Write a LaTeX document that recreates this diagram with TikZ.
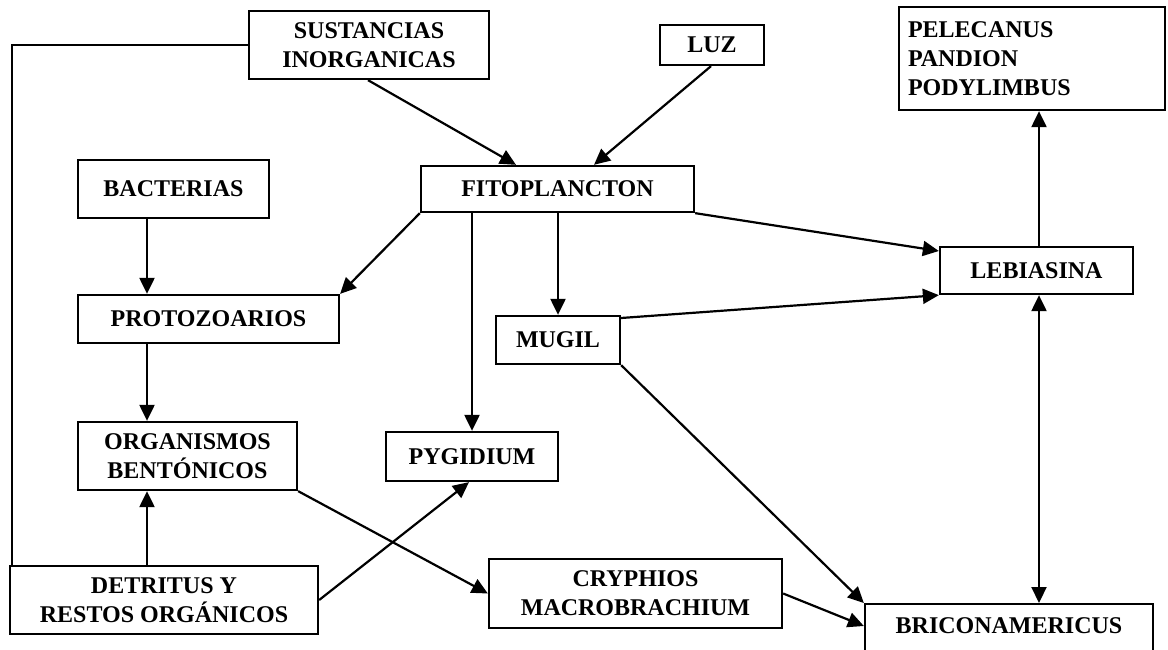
\documentclass[tikz,border=0pt]{standalone}
\usepackage{fontspec}
\setmainfont{Liberation Serif}
\usetikzlibrary{arrows.meta}
\begin{document}
\begin{tikzpicture}[x=1pt,y=-1pt,
  lbl/.style={font=\fontsize{24}{29}\selectfont\bfseries},
  box/.style={draw=black,line width=2.3pt,rectangle,inner sep=0pt,align=center,lbl},
  arr/.style={line width=2.2pt,-{Triangle[length=16pt,width=15pt]}},
  darr/.style={line width=2.2pt,{Triangle[length=16pt,width=15pt]}-{Triangle[length=16pt,width=15pt]}},
  ln/.style={line width=2.2pt}]
\useasboundingbox (0,0) rectangle (1168,650);
\fill[white] (0,0) rectangle (1168,650);
% nodes (centre, width, height)
\node[box,minimum width=240pt,minimum height=68pt] (sus) at (369,45) {SUSTANCIAS\\INORGANICAS};
\node[box,minimum width=104pt,minimum height=40pt] (luz) at (712,45) {LUZ};
\node[box,minimum width=266pt,minimum height=103pt,text width=248pt,align=left] (pel) at (1032,58.5) {PELECANUS\\PANDION\\PODYLIMBUS};
\node[box,minimum width=191pt,minimum height=58pt] (bac) at (173.5,189) {BACTERIAS};
\node[box,minimum width=273pt,minimum height=46pt] (fito) at (557.5,189) {FITOPLANCTON};
\node[box,minimum width=193pt,minimum height=47pt] (leb) at (1036.5,270.5) {LEBIASINA};
\node[box,minimum width=261pt,minimum height=48pt] (pro) at (208.5,319) {PROTOZOARIOS};
\node[box,minimum width=124pt,minimum height=48pt] (mug) at (558,340) {MUGIL};
\node[box,minimum width=219pt,minimum height=68pt] (org) at (187.5,456) {ORGANISMOS\\BENTÓNICOS};
\node[box,minimum width=172pt,minimum height=49pt] (pyg) at (472,456.5) {PYGIDIUM};
\node[box,minimum width=308pt,minimum height=68pt] (det) at (164,600) {DETRITUS Y\\RESTOS ORGÁNICOS};
\node[box,minimum width=293pt,minimum height=69pt] (cry) at (635.5,593.5) {CRYPHIOS\\MACROBRACHIUM};
\node[box,minimum width=288pt,minimum height=70pt,anchor=north] (bri) at (1009,603) {};
\node[lbl,inner sep=0pt] (britext) at (1009,626) {BRICONAMERICUS};
% connectors
\draw[arr] (368,0 |- sus.south) -- (516,0 |- fito.north);
\draw[arr] (711,0 |- luz.south) -- (594,0 |- fito.north);
\draw[arr] (147,0 |- bac.south) -- (147,0 |- pro.north);
\draw[arr] (fito.south west) -- (pro.north east);
\draw[arr] (472,0 |- fito.south) -- (472,0 |- pyg.north);
\draw[arr] (558,0 |- fito.south) -- (mug.north);
\draw[arr] (fito.south east) -- (leb.west |- 0,251);
\draw[arr] (mug.east |- 0,318) -- (leb.south west);
\draw[arr] (147,0 |- pro.south) -- (147,0 |- org.north);
\draw[arr] (147,0 |- det.north) -- (147,0 |- org.south);
\draw[arr] (det.east) -- (469,0 |- pyg.south);
\draw[arr] (org.south east) -- (cry.west);
\draw[arr] (mug.south east) -- (bri.north west);
\draw[arr] (cry.east) -- (bri.west |- 0,626);
\draw[darr] (1039,0 |- leb.south) -- (1039,0 |- bri.north);
\draw[arr] (1039,0 |- leb.north) -- (1039,0 |- pel.south);
\draw[ln] (sus.west) -| (12,0 |- det.north);
\end{tikzpicture}
\end{document}
